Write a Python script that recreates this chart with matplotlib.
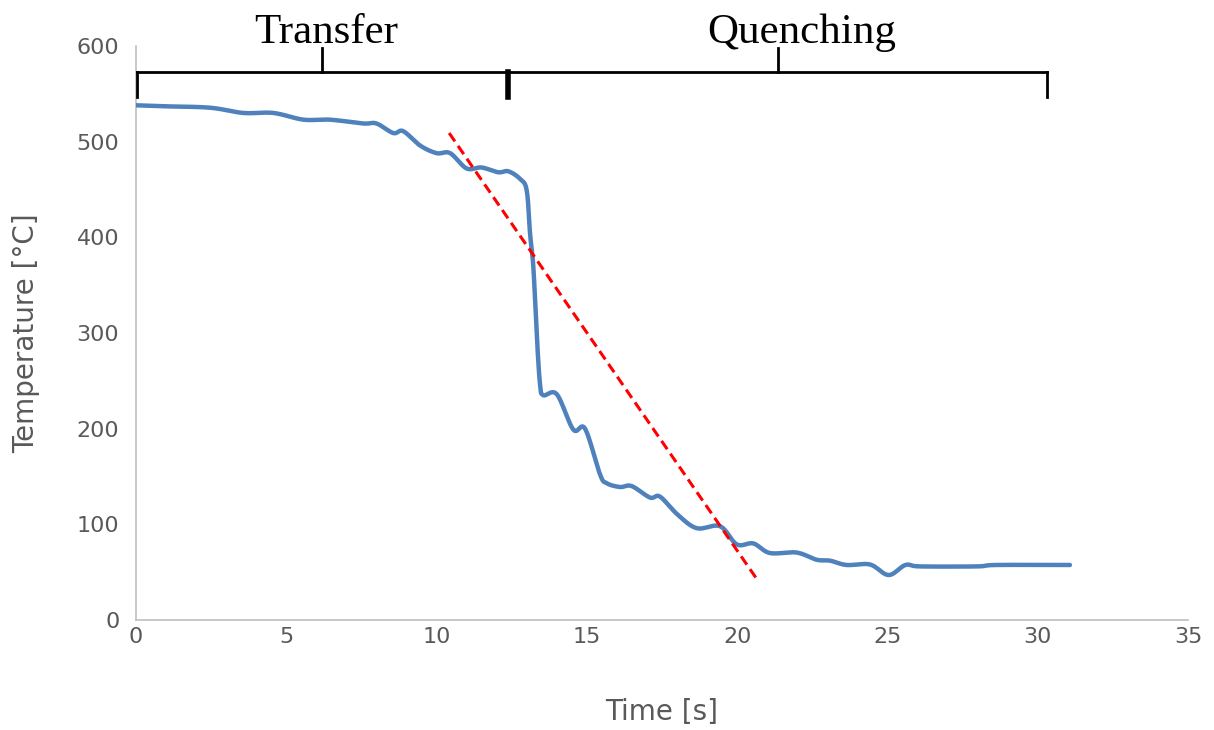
import matplotlib
matplotlib.use("Agg")
import matplotlib.pyplot as plt
import numpy as np

# Measured temperature curve
time_s = [0.0, 0.9, 2.46, 3.57, 4.57, 5.57, 6.45, 7.56, 8.0, 8.56, 8.89, 9.45, 10.0,
          10.45, 11.0, 11.5, 12.05, 12.39, 12.78, 13.0, 13.11, 13.22, 13.33, 13.44,
          13.55, 14.0, 14.55, 14.94, 15.44, 15.66, 16.1, 16.49, 17.1, 17.43, 17.99,
          18.65, 19.43, 19.99, 20.54, 21.09, 21.98, 22.64, 23.09, 23.64, 24.42,
          25.04, 25.6, 26.08, 27.97, 28.63, 31.07]
temp_c = [538, 537, 535.5, 530, 530, 523, 523, 519, 519, 509, 511, 496, 488,
          488, 472, 473, 468, 469, 461, 449, 404, 369, 300, 247,
          235, 236, 199, 200, 152, 143, 139, 140, 128, 129, 111,
          96, 98, 79, 80, 70, 70.5, 63, 62, 57.5, 58,
          47, 57.5, 56, 56, 57.5, 57.5]

# Red dashed tangent line
tangent_t = [10.42, 20.65]
tangent_T = [509, 43]

# Phase brackets
phase_names = ["Transfer", "Quenching"]
phase_start = [0.03, 12.38]
phase_end = [12.38, 30.3]
phase_mid = [6.19, 21.36]
label_x = [6.33, 22.15]


def smooth_path(x, y, n=12):
    """Catmull-Rom rendering of the polyline (like Excel's smoothed line)."""
    x = np.asarray(x, float)
    y = np.asarray(y, float)
    px = np.concatenate([[x[0]], x, [x[-1]]])
    py = np.concatenate([[y[0]], y, [y[-1]]])
    ox, oy = [], []
    t = np.linspace(0, 1, n, endpoint=False)
    for i in range(1, len(px) - 2):
        p0x, p1x, p2x, p3x = px[i - 1:i + 3]
        p0y, p1y, p2y, p3y = py[i - 1:i + 3]
        for arr, a, b, c, d in ((ox, p0x, p1x, p2x, p3x), (oy, p0y, p1y, p2y, p3y)):
            arr.extend(0.5 * ((2 * b) + (-a + c) * t + (2 * a - 5 * b + 4 * c - d) * t ** 2
                              + (-a + 3 * b - 3 * c + d) * t ** 3))
    ox.append(x[-1])
    oy.append(y[-1])
    return ox, oy


fig = plt.figure(figsize=(12.14, 7.3), dpi=100)
ax = fig.add_axes([0.112, 0.1507, 0.8666, 0.7863])

sx, sy = smooth_path(time_s, temp_c)
ax.plot(sx, sy, color="#4F81BD", lw=3.2, solid_capstyle="round",
        solid_joinstyle="round", zorder=3)
ax.plot(tangent_t, tangent_T, color="#FF0000", lw=2.2, dashes=(3.3, 1.8), zorder=4)

ax.set_xlim(0, 35)
ax.set_ylim(0, 600)
ax.set_xticks(range(0, 36, 5))
ax.set_yticks(range(0, 601, 100))
gray = "#595959"
ax.tick_params(axis="x", length=0, labelsize=16, labelcolor=gray, pad=5)
ax.tick_params(axis="y", length=0, labelsize=16, labelcolor=gray, pad=12)
for s in ["top", "right"]:
    ax.spines[s].set_visible(False)
for s in ["left", "bottom"]:
    ax.spines[s].set_color("#BFBFBF")
    ax.spines[s].set_linewidth(1.2)

ax.set_xlabel("Time [s]", fontsize=20, color=gray, labelpad=37)
ax.set_ylabel("Temperature [\u00b0C]", fontsize=20, color=gray, labelpad=26)

# brackets
y_bar = 572.8
y_low = 546.7
y_up = 598
kw = dict(color="black", lw=2, clip_on=False, zorder=5)
for s, e, m, lx, name in zip(phase_start, phase_end, phase_mid, label_x, phase_names):
    ax.plot([s, e], [y_bar, y_bar], **kw)
    ax.plot([s, s], [y_low, y_bar], **kw)
    ax.plot([e, e], [y_low, y_bar], **kw)
    ax.plot([m, m], [y_bar, y_up], **kw)
    ax.text(lx, 614, name, ha="center", va="center", fontsize=31,
            family="Liberation Serif", clip_on=False)
ax.plot([phase_end[0], phase_end[0]], [y_low, y_bar], color="black", lw=4,
        clip_on=False, zorder=5)

fig.savefig("out.png", dpi=100)
